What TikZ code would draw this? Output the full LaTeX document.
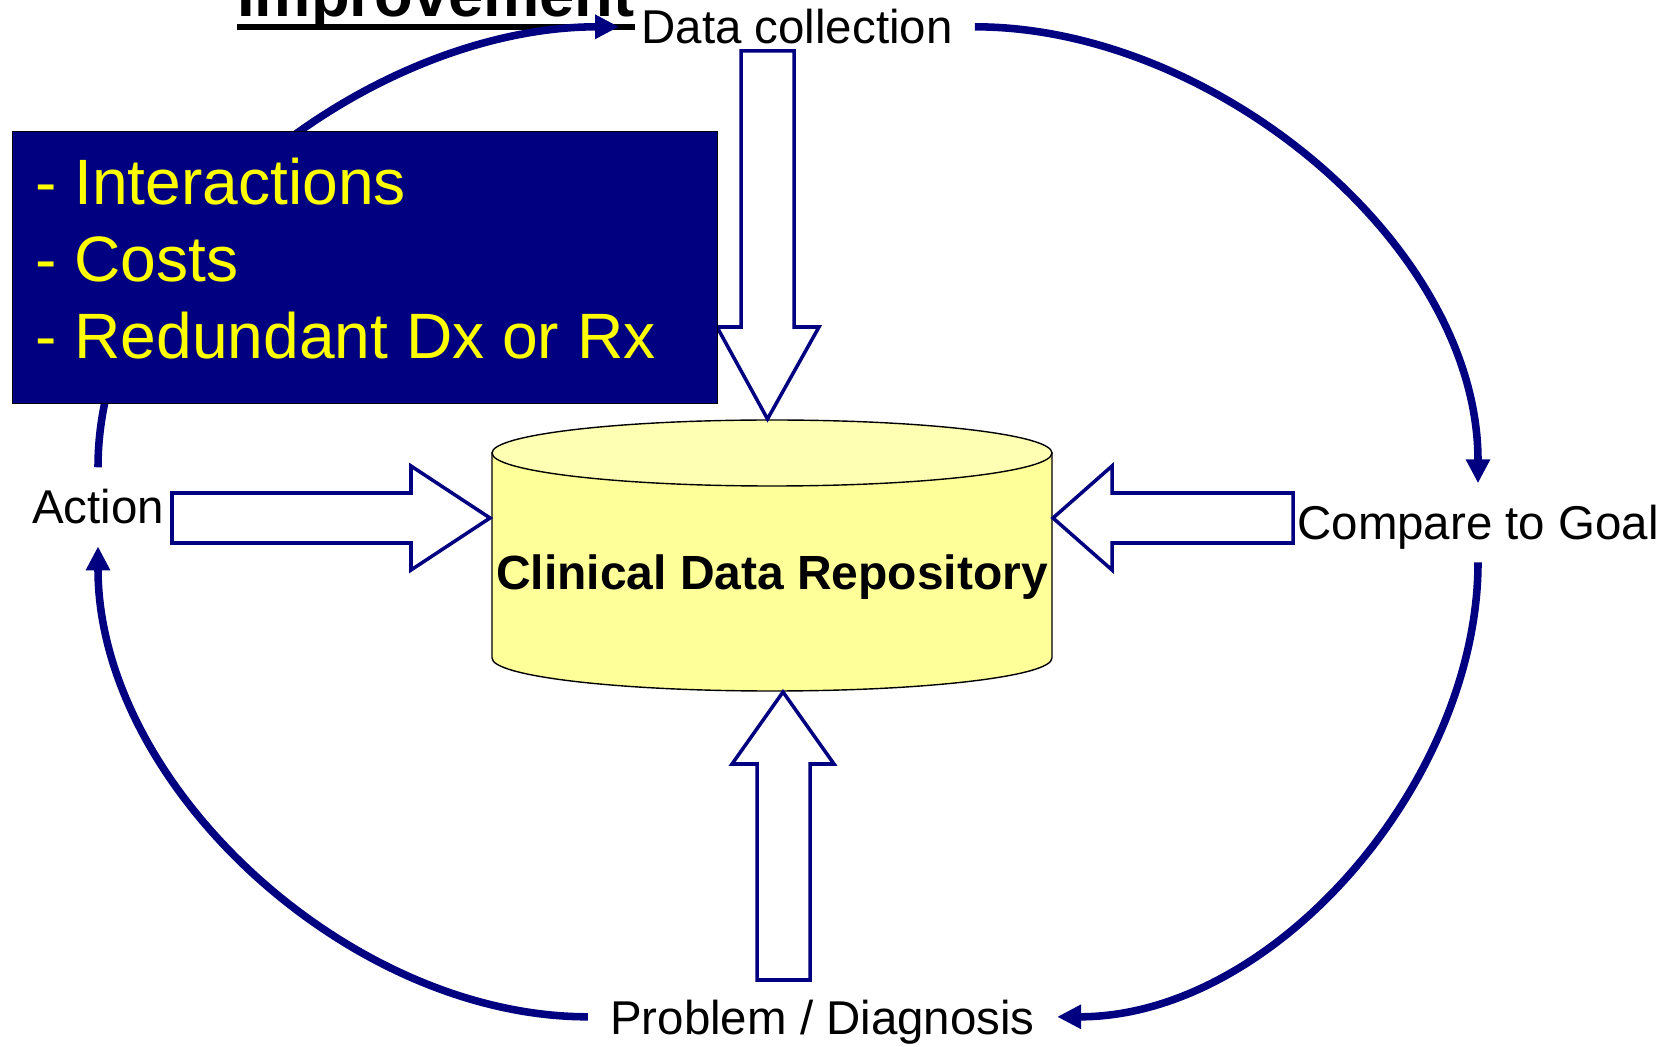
\documentclass[tikz,border=0pt]{standalone}
\usepackage{fontspec}
\setmainfont{Liberation Sans}
\usetikzlibrary{arrows.meta}
\definecolor{navy}{RGB}{0,0,128}
\definecolor{cdrbody}{RGB}{255,255,153}
\definecolor{cdrtop}{RGB}{255,255,180}
\definecolor{hilite}{RGB}{255,255,0}
\begin{document}
\begin{tikzpicture}[
  cyclelabel/.style={anchor=base, inner sep=0.44cm, text depth=0pt, font=\fontsize{27}{32}\selectfont},
  cyclearrow/.style={draw=navy, line width=4.3pt, -{Triangle[length=0.48cm,width=0.46cm]}},
  blockarrow/.style={draw=navy, line width=2pt, fill=white},
]
\useasboundingbox (0,0) rectangle (33.54,-20.94);

% title, cut off at the top
\node[anchor=base west, inner sep=0pt, font=\bfseries\fontsize{36}{40}\selectfont] (title) at (4.74,-0.34) {Improvement};
\draw[line width=0.12cm] ([yshift=-0.2cm]title.base west) -- ([yshift=-0.2cm]title.base east);

% steps of the cycle
\node[cyclelabel] (collect) at (15.94,-0.88) {Data collection};
\node[cyclelabel] (compare) at (29.56,-10.80) {Compare to Goal};
\node[cyclelabel] (problem) at (16.45,-20.68) {Problem / Diagnosis};
\node[cyclelabel] (action) at (1.96,-10.48) {Action};

% repository
\path[draw,fill=cdrbody,line width=0.8pt] (9.84,-9.06) -- (9.84,-13.16)
  arc[start angle=180, end angle=360, x radius=5.6, y radius=0.66] -- (21.04,-9.06) -- cycle;
\path[draw,fill=cdrtop,line width=0.8pt] (15.44,-9.06) ellipse[x radius=5.6, y radius=0.66];
\node[anchor=base, font=\bfseries\fontsize{27.3}{31}\selectfont] (cdr) at (15.44,-11.8) {Clinical Data Repository};

% block arrows into the repository
\path[blockarrow] (3.44,-9.86) -- (8.22,-9.86) -- (8.22,-9.32) -- (9.80,-10.36) -- (8.22,-11.40) -- (8.22,-10.86) -- (3.44,-10.86) -- cycle;
\path[blockarrow] (25.86,-9.86) -- (22.24,-9.86) -- (22.24,-9.32) -- (21.06,-10.36) -- (22.24,-11.40) -- (22.24,-10.86) -- (25.86,-10.86) -- cycle;
\path[blockarrow] (14.82,-1.02) -- (15.88,-1.02) -- (15.88,-6.54) -- (16.38,-6.54) -- (15.35,-8.38) -- (14.34,-6.54) -- (14.82,-6.54) -- cycle;
\path[blockarrow] (15.14,-19.60) -- (15.14,-15.28) -- (14.64,-15.28) -- (15.66,-13.84) -- (16.68,-15.28) -- (16.20,-15.28) -- (16.20,-19.60) -- cycle;

% the cycle
\draw[cyclearrow] (action.north) to[out=90,in=180,looseness=0.9] (collect.west);
\draw[cyclearrow] (collect.east) to[out=0,in=90,looseness=0.9] (compare.north);
\draw[cyclearrow] (compare.south) to[out=270,in=0,looseness=0.9] (problem.east);
\draw[cyclearrow] (problem.west) to[out=180,in=270,looseness=0.9] (action.south);

% issues box
\node[draw, fill=navy, line width=0.8pt, anchor=north west, inner sep=0pt,
  minimum width=14.1cm, minimum height=5.44cm] (issues) at (0.24,-2.62) {};
\foreach \txt [count=\i] in {Interactions, Costs, Redundant Dx or Rx}
  \node[anchor=base west, inner sep=0pt, text=hilite, font=\fontsize{36.5}{44}\selectfont] (item\i) at (0.70,{-4.10-1.54*(\i-1)}) {- \txt};
\end{tikzpicture}
\end{document}
